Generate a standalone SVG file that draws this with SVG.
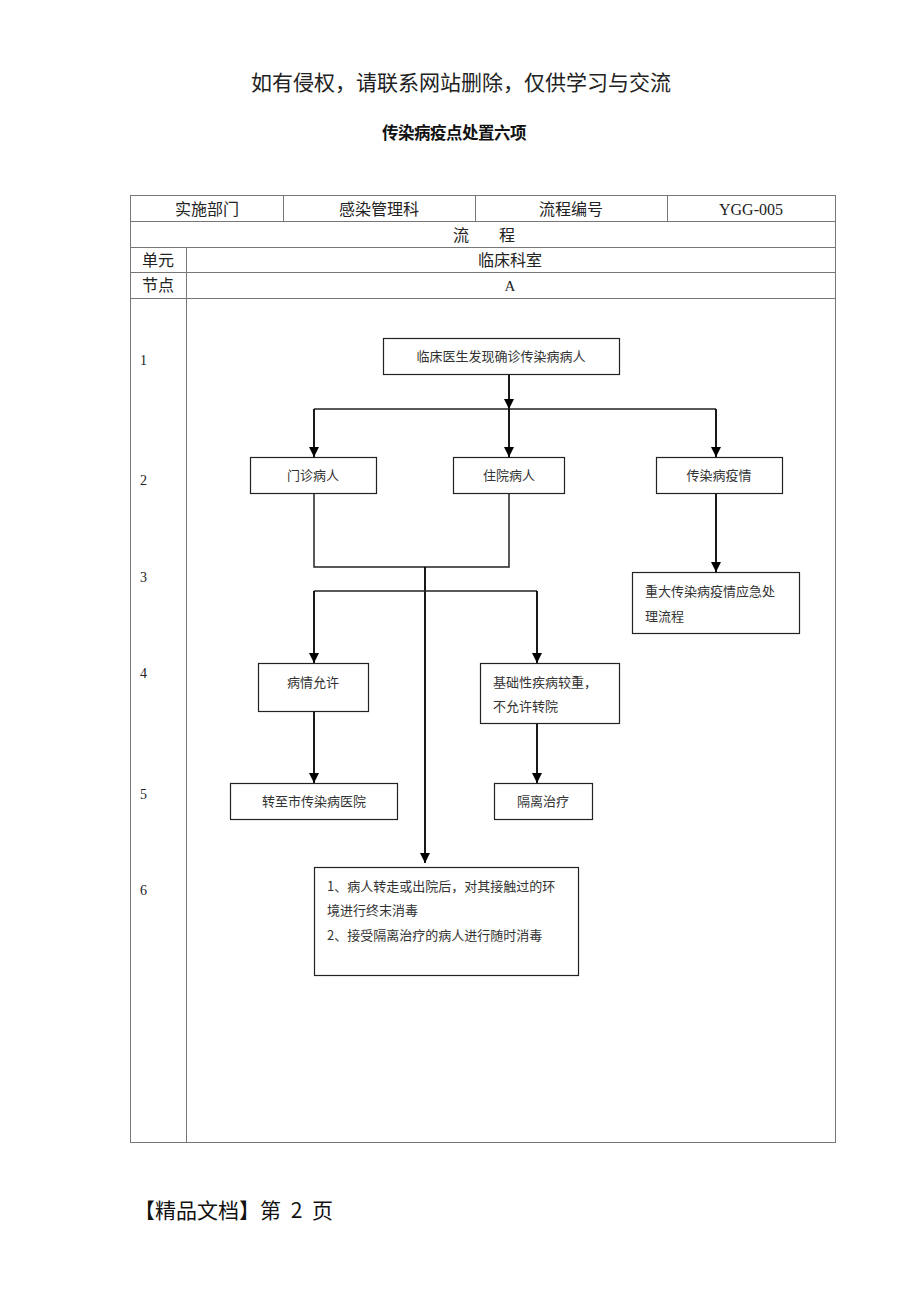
<svg xmlns="http://www.w3.org/2000/svg" width="920" height="1302" viewBox="0 0 920 1302">
<defs>
<marker id="ah" viewBox="0 0 10 10" refX="10" refY="5" markerWidth="10" markerHeight="10" markerUnits="userSpaceOnUse" orient="auto">
<path d="M0,0 L10,5 L0,10 Z" fill="#000"/>
</marker>
<style>
.t{font-family:"Liberation Serif","Noto Sans CJK SC",serif;fill:#222}
.c{font-family:"Noto Sans CJK SC",sans-serif;fill:#333;font-size:13px}
.grid{stroke:#777;stroke-width:1;fill:none}
.box{fill:#fff;stroke:#222;stroke-width:1.2}
.ln{stroke:#222;stroke-width:1.5;fill:none}
.ar{stroke:#000;stroke-width:1.8;fill:none;marker-end:url(#ah)}
</style>
</defs>
<rect width="920" height="1302" fill="#fff"/>
<text class="t" x="461" y="90" font-size="21" text-anchor="middle" font-family="Noto Sans CJK SC">如有侵权，请联系网站删除，仅供学习与交流</text>
<text x="454" y="139" font-size="16.5" font-weight="bold" text-anchor="middle" font-family="Noto Sans CJK SC,sans-serif" fill="#111" letter-spacing="-0.5">传染病疫点处置六项</text>
<g id="table">
<rect class="grid" x="130.5" y="195.5" width="705" height="947"/>
<line class="grid" x1="130" y1="221.5" x2="835" y2="221.5"/>
<line class="grid" x1="130" y1="247.5" x2="835" y2="247.5"/>
<line class="grid" x1="130" y1="272.5" x2="835" y2="272.5"/>
<line class="grid" x1="130" y1="298.5" x2="835" y2="298.5"/>
<line class="grid" x1="283.5" y1="195" x2="283.5" y2="221"/>
<line class="grid" x1="475.5" y1="195" x2="475.5" y2="221"/>
<line class="grid" x1="667.5" y1="195" x2="667.5" y2="221"/>
<line class="grid" x1="186.5" y1="247" x2="186.5" y2="1142"/>
<text class="t" x="207" y="215" font-size="16" text-anchor="middle" font-family="Noto Sans CJK SC">实施部门</text>
<text class="t" x="379" y="215" font-size="16" text-anchor="middle" font-family="Noto Sans CJK SC">感染管理科</text>
<text class="t" x="571" y="215" font-size="16" text-anchor="middle" font-family="Noto Sans CJK SC">流程编号</text>
<text class="t" x="751" y="215" font-size="16" text-anchor="middle">YGG-005</text>
<text class="t" x="461" y="241" font-size="16" text-anchor="middle" font-family="Noto Sans CJK SC">流</text>
<text class="t" x="507" y="241" font-size="16" text-anchor="middle" font-family="Noto Sans CJK SC">程</text>
<text class="t" x="158" y="266" font-size="16" text-anchor="middle" font-family="Noto Sans CJK SC">单元</text>
<text class="t" x="510" y="266" font-size="16" text-anchor="middle" font-family="Noto Sans CJK SC">临床科室</text>
<text class="t" x="158" y="291" font-size="16" text-anchor="middle" font-family="Noto Sans CJK SC">节点</text>
<text class="t" x="510" y="291" font-size="15" text-anchor="middle">A</text>
<text class="t" x="140" y="365" font-size="14">1</text>
<text class="t" x="140" y="485" font-size="14">2</text>
<text class="t" x="140" y="582" font-size="14">3</text>
<text class="t" x="140" y="678" font-size="14">4</text>
<text class="t" x="140" y="799" font-size="14">5</text>
<text class="t" x="140" y="895" font-size="14">6</text>
</g>
<g id="connectors">
<line class="ar" x1="509" y1="374" x2="509" y2="409"/>
<polyline class="ln" points="314,409 716,409"/>
<line class="ar" x1="314" y1="409" x2="314" y2="457"/>
<line class="ar" x1="509" y1="409" x2="509" y2="457"/>
<line class="ar" x1="716" y1="409" x2="716" y2="457"/>
<polyline class="ln" points="314,493 314,567 509,567 509,493"/>
<line class="ar" x1="425" y1="567" x2="425" y2="863"/>
<polyline class="ln" points="314,591 537,591"/>
<line class="ar" x1="314" y1="591" x2="314" y2="663"/>
<line class="ar" x1="537" y1="591" x2="537" y2="663"/>
<line class="ar" x1="314" y1="711" x2="314" y2="783"/>
<line class="ar" x1="537" y1="723" x2="537" y2="783"/>
<line class="ar" x1="716" y1="493" x2="716" y2="572"/>
</g>
<g id="n1"><rect class="box" x="383.5" y="338.5" width="236" height="36"/><text class="c" x="501" y="361" text-anchor="middle">临床医生发现确诊传染病病人</text></g>
<g id="n2"><rect class="box" x="250.5" y="457.5" width="126" height="36"/><text class="c" x="313" y="480" text-anchor="middle">门诊病人</text></g>
<g id="n3"><rect class="box" x="453.5" y="457.5" width="111" height="36"/><text class="c" x="509" y="480" text-anchor="middle">住院病人</text></g>
<g id="n4"><rect class="box" x="656.5" y="457.5" width="126" height="36"/><text class="c" x="719" y="480" text-anchor="middle">传染病疫情</text></g>
<g id="n5"><rect class="box" x="632.5" y="572.5" width="167" height="61"/><text class="c" x="645" y="596">重大传染病疫情应急处</text><text class="c" x="645" y="621">理流程</text></g>
<g id="n6"><rect class="box" x="258.5" y="663.5" width="110" height="48"/><text class="c" x="313" y="687" text-anchor="middle">病情允许</text></g>
<g id="n7"><rect class="box" x="480.5" y="663.5" width="139" height="60"/><text class="c" x="493" y="687">基础性疾病较重，</text><text class="c" x="493" y="711">不允许转院</text></g>
<g id="n8"><rect class="box" x="230.5" y="783.5" width="167" height="36"/><text class="c" x="314" y="806" text-anchor="middle">转至市传染病医院</text></g>
<g id="n9"><rect class="box" x="494.5" y="783.5" width="98" height="36"/><text class="c" x="543" y="806" text-anchor="middle">隔离治疗</text></g>
<g id="n10"><rect class="box" x="314.5" y="867.5" width="264" height="108"/>
<text class="c" x="327" y="891">1、病人转走或出院后，对其接触过的环</text>
<text class="c" x="327" y="915">境进行终末消毒</text>
<text class="c" x="327" y="940">2、接受隔离治疗的病人进行随时消毒</text></g>
<text x="134" y="1218" font-size="21" font-family="Noto Sans CJK SC,sans-serif" fill="#111" xml:space="preserve" word-spacing="5">【精品文档】第 2 页</text>
</svg>
